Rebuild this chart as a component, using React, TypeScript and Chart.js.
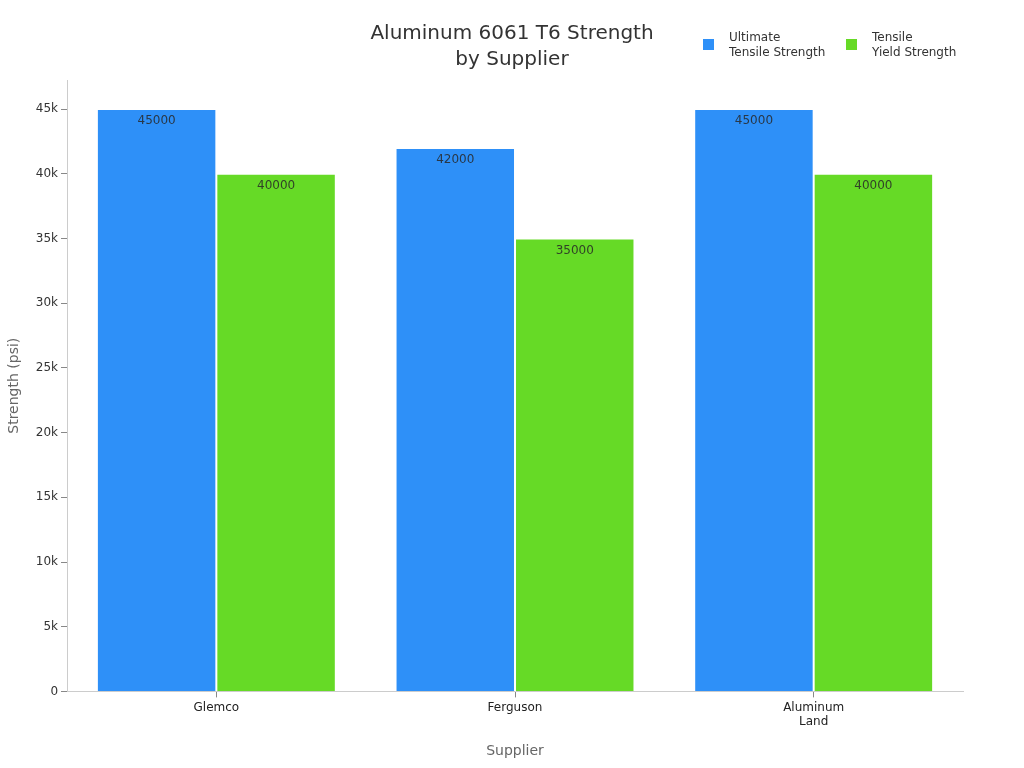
import React, { useEffect, useRef } from "react";
import { Chart, registerables } from "chart.js";

Chart.register(...registerables);

const categories: (string | string[])[] = ["Glemco", "Ferguson", ["Aluminum", "Land"]];
const ultimateTensile = [45000, 42000, 45000];
const tensileYield = [40000, 35000, 40000];
const seriesLabels: string[][] = [["Ultimate", "Tensile Strength"], ["Tensile", "Yield Strength"]];
const seriesColors = ["#2E90F8", "#66DA26"];
const titleLines = ["Aluminum 6061 T6 Strength", "by Supplier"];
const yTickValues = [0, 5000, 10000, 15000, 20000, 25000, 30000, 35000, 40000, 45000];
const FONT = "'DejaVu Sans', sans-serif";

const valueLabelPlugin = {
  id: "valueLabels",
  afterDatasetsDraw(chart: any) {
    const ctx = chart.ctx;
    ctx.save();
    ctx.font = `12px ${FONT}`;
    ctx.fillStyle = "rgba(40,40,40,0.85)";
    ctx.textAlign = "center";
    ctx.textBaseline = "middle";
    chart.data.datasets.forEach((ds: any, i: number) => {
      const meta = chart.getDatasetMeta(i);
      meta.data.forEach((bar: any, j: number) => {
        ctx.fillText(String(ds.data[j]), bar.x, bar.y + 12);
      });
    });
    ctx.restore();
  },
};

const customLegendPlugin = {
  id: "customLegend",
  afterDraw(chart: any) {
    const ctx = chart.ctx;
    ctx.save();
    const xs = [703, 846];
    ctx.font = `12px ${FONT}`;
    ctx.textBaseline = "middle";
    ctx.textAlign = "left";
    seriesLabels.forEach((lines, i) => {
      ctx.fillStyle = seriesColors[i];
      ctx.fillRect(xs[i], 39, 11, 11);
      ctx.fillStyle = "#333";
      lines.forEach((ln, k) => {
        ctx.fillText(ln, xs[i] + 26, 38 + k * 15);
      });
    });
    ctx.font = `20px ${FONT}`;
    ctx.textAlign = "center";
    ctx.fillStyle = "#333";
    titleLines.forEach((ln, k) => {
      ctx.fillText(ln, chart.width / 2, 34 + k * 26);
    });
    ctx.restore();
  },
};

export default function App() {
  const ref = useRef<HTMLCanvasElement>(null);
  useEffect(() => {
    document.body.style.margin = "0";
    const chart = new Chart(ref.current!, {
      type: "bar",
      data: {
        labels: categories,
        datasets: [
          {
            label: seriesLabels[0].join(" "),
            data: ultimateTensile,
            backgroundColor: seriesColors[0],
            borderColor: "rgba(255,255,255,0.8)",
            borderWidth: 1,
            categoryPercentage: 0.8,
            barPercentage: 1.0,
          },
          {
            label: seriesLabels[1].join(" "),
            data: tensileYield,
            backgroundColor: seriesColors[1],
            borderColor: "rgba(255,255,255,0.8)",
            borderWidth: 1,
            categoryPercentage: 0.8,
            barPercentage: 1.0,
          },
        ],
      },
      options: {
        responsive: false,
        animation: false,
        layout: { padding: { left: 2, right: 61, top: 0, bottom: 8 } },
        plugins: {
          legend: { display: false },
          tooltip: { enabled: false },
          title: {
            display: true,
            text: titleLines,
            color: "rgba(0,0,0,0)",
            font: { family: FONT, size: 20, weight: "normal", lineHeight: 1.3 },
            padding: { top: 20, bottom: 8 },
          },
        },
        scales: {
          x: {
            grid: { display: true, drawOnChartArea: false, offset: false, color: "#888", tickLength: 6 },
            border: { display: true, color: "#ccc" },
            ticks: { color: "#222", font: { family: FONT, size: 12 }, padding: 3 },
            title: {
              display: true,
              text: "Supplier",
              color: "#666",
              font: { family: FONT, size: 14 },
              padding: { top: 11, bottom: 0 },
            },
          },
          y: {
            min: 0,
            max: 47250,
            afterBuildTicks: (axis: any) => {
              axis.ticks = yTickValues.map((v) => ({ value: v }));
            },
            grid: { display: true, drawOnChartArea: false, color: "#888", tickLength: 6 },
            border: { display: true, color: "#ccc" },
            ticks: {
              color: "#333",
              font: { family: FONT, size: 12 },
              padding: 3,
              callback: (v: any) => (v === 0 ? "0" : `${v / 1000}k`),
            },
            title: {
              display: true,
              text: "Strength (psi)",
              color: "#666",
              font: { family: FONT, size: 14 },
              padding: { top: 4, bottom: 10 },
            },
          },
        },
      },
      plugins: [valueLabelPlugin, customLegendPlugin],
    });
    return () => chart.destroy();
  }, []);
  return (
    <div style={{ width: 1024, height: 768 }}>
      <canvas ref={ref} width={1024} height={768} style={{ display: "block" }} />
    </div>
  );
}
